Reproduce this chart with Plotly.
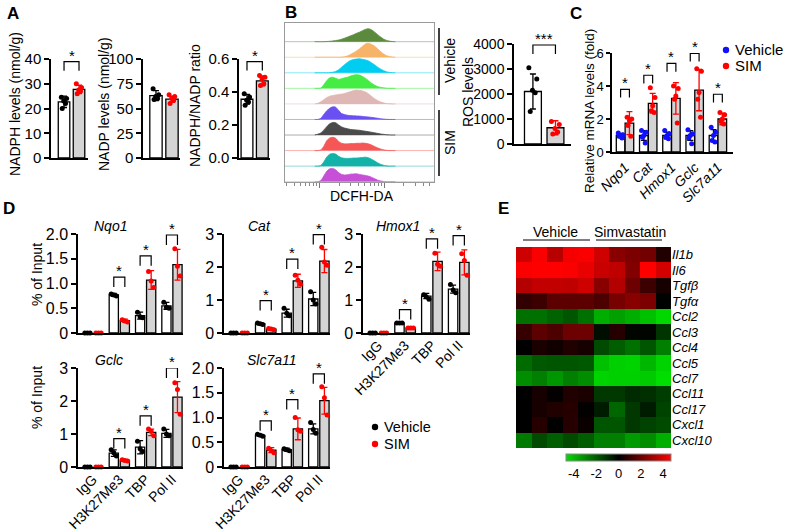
import math
import plotly.graph_objects as go

W, H = 788, 531
FONT = "Arial, Liberation Sans, sans-serif"
GREY = "#d4d4d4"

# ---------- panel A ----------
NADPH_MEAN = [22.7, 27.7]
NADPH_SD = [2.3, 1.7]
NADPH_VEH = [24.5, 24.0, 23.0, 22.0, 20.0]
NADPH_SIM = [30.0, 28.5, 27.5, 27.0, 26.0]
NADP_MEAN = [63.0, 59.5]
NADP_SD = [5.0, 3.0]
NADP_VEH = [70.0, 64.0, 62.0, 60.0, 59.0]
NADP_SIM = [64.0, 62.0, 60.0, 58.0, 55.0]
RATIO_MEAN = [0.356, 0.468]
RATIO_SD = [0.03, 0.03]
RATIO_VEH = [0.39, 0.37, 0.35, 0.34, 0.32]
RATIO_SIM = [0.50, 0.49, 0.48, 0.45, 0.44]
NADPH_BRACKET = 38.9
RATIO_BRACKET = 0.584

# ---------- panel B ----------
HIST_X = [1.0, 1.1, 1.2, 1.3, 1.4, 1.5, 1.6, 1.7, 1.8, 1.9, 2.0, 2.1, 2.2, 2.3,
          2.4, 2.5, 2.6, 2.7, 2.8, 2.9, 3.0, 3.1, 3.2, 3.3, 3.4, 3.5, 3.6, 3.7]
HIST_COLORS = ["#5b8a3c", "#f7b468", "#00cdef", "#44ec44", "#dfb7b5",
               "#6a50f0", "#4a4a4a", "#f55656", "#12b2a8", "#c651d6"]
HIST_ROWS = [
    [0, 0, 0, 0, 1, 3, 5, 8, 12, 18, 25, 33, 42, 50, 60, 68, 78, 88, 93, 85, 70, 52, 35, 20, 10, 4, 1, 0],
    [0, 0, 0, 0, 0, 0, 0, 0, 0, 1, 4, 10, 20, 32, 45, 60, 78, 95, 100, 92, 80, 62, 42, 25, 12, 5, 2, 0],
    [0, 0, 0, 0, 0, 1, 4, 10, 22, 40, 58, 75, 88, 95, 98, 100, 96, 92, 85, 72, 58, 42, 28, 16, 8, 3, 1, 0],
    [0, 0, 2, 25, 55, 75, 80, 72, 64, 68, 75, 80, 88, 95, 98, 95, 85, 72, 55, 38, 24, 14, 8, 4, 1, 0, 0, 0],
    [0, 4, 15, 30, 45, 55, 60, 64, 68, 70, 75, 82, 88, 95, 100, 97, 92, 85, 72, 55, 38, 25, 15, 8, 3, 1, 0, 0],
    [0, 0, 8, 35, 62, 80, 90, 88, 65, 42, 35, 30, 28, 26, 25, 24, 22, 20, 18, 15, 12, 9, 6, 3, 1, 0, 0, 0],
    [1, 6, 15, 35, 60, 80, 90, 88, 72, 58, 50, 45, 40, 38, 36, 34, 30, 27, 24, 20, 16, 12, 8, 5, 2, 1, 0, 0],
    [0, 0, 5, 30, 70, 90, 95, 88, 65, 52, 48, 48, 50, 50, 52, 52, 54, 52, 48, 40, 30, 20, 12, 6, 2, 0, 0, 0],
    [0, 0, 5, 30, 65, 85, 90, 86, 70, 60, 56, 55, 56, 58, 58, 60, 62, 64, 60, 50, 38, 25, 14, 7, 2, 0, 0, 0],
    [0, 0, 8, 40, 75, 92, 95, 85, 65, 52, 48, 50, 54, 55, 56, 52, 48, 45, 40, 32, 22, 12, 6, 2, 0, 0, 0, 0],
]
ROS_MEAN = [2100, 650]
ROS_SD = [700, 280]
ROS_VEH = [3050, 2600, 2150, 2050, 1300]
ROS_SIM = [900, 780, 620, 480, 400]
ROS_BRACKET = 3960

# ---------- panel C ----------
MRNA_GENES = ["Nqo1", "Cat", "Hmox1", "Gclc", "Slc7a11"]
MRNA_VEH_MEAN = [1.0, 1.0, 1.0, 1.0, 1.0]
MRNA_VEH_SD = [0.12, 0.3, 0.2, 0.3, 0.35]
MRNA_SIM_MEAN = [1.75, 2.95, 3.25, 3.75, 2.0]
MRNA_SIM_SD = [0.7, 0.6, 0.95, 1.25, 0.35]
MRNA_VEH_PTS = [[1.15, 1.05, 1.0, 0.95, 0.85], [1.3, 1.2, 1.0, 0.9, 0.55], [1.3, 1.1, 1.0, 0.9, 0.8],
                [1.35, 1.1, 1.0, 0.85, 0.5], [1.5, 1.2, 1.0, 0.7, 0.6]]
MRNA_SIM_PTS = [[2.1, 2.0, 1.9, 1.6, 0.95], [3.9, 3.3, 2.8, 2.5, 2.4], [4.0, 3.85, 3.4, 3.2, 1.75],
                [5.05, 4.9, 3.6, 3.2, 2.1], [2.4, 2.25, 2.0, 1.85, 1.7]]
MRNA_BRACKET = [3.8, 4.65, 5.37, 5.98, 3.5]

# ---------- panel D ----------
CHIP_GENES = ["Nqo1", "Cat", "Hmox1", "Gclc", "Slc7a11"]
CHIP_TARGETS = ["IgG", "H3K27Me3", "TBP", "Pol II"]
CHIP_YMAX = [2, 3, 3, 3, 2]
CHIP_VEH_MEAN = [[0, 0.77, 0.35, 0.55], [0, 0.28, 0.60, 1.03], [0, 0.30, 1.12, 1.33],
                 [0, 0.42, 0.60, 1.02], [0, 0.64, 0.35, 0.77]]
CHIP_SIM_MEAN = [[0, 0.25, 1.07, 1.38], [0, 0.12, 1.58, 2.18], [0, 0.15, 2.17, 2.14],
                 [0, 0.20, 1.05, 2.12], [0, 0.34, 0.77, 1.34]]
CHIP_VEH_SD = [[0, 0.03, 0.07, 0.07], [0, 0.03, 0.12, 0.20], [0, 0.01, 0.08, 0.12],
               [0, 0.10, 0.20, 0.12], [0, 0.02, 0.03, 0.10]]
CHIP_SIM_SD = [[0, 0.03, 0.19, 0.31], [0, 0.02, 0.20, 0.35], [0, 0.01, 0.28, 0.38],
               [0, 0.03, 0.10, 0.47], [0, 0.05, 0.22, 0.27]]
CHIP_VEH_PTS = [
    [[0, 0, 0], [0.79, 0.77, 0.75], [0.42, 0.33, 0.31], [0.62, 0.52, 0.50]],
    [[0, 0, 0], [0.30, 0.28, 0.26], [0.75, 0.60, 0.52], [1.25, 1.00, 0.88]],
    [[0, 0, 0], [0.30, 0.30, 0.30], [1.16, 1.10, 1.02], [1.47, 1.30, 1.22]],
    [[0, 0, 0], [0.52, 0.43, 0.33], [0.78, 0.55, 0.47], [1.15, 1.00, 0.95]],
    [[0, 0, 0], [0.66, 0.64, 0.62], [0.37, 0.35, 0.33], [0.90, 0.76, 0.68]],
]
CHIP_SIM_PTS = [
    [[0, 0, 0], [0.27, 0.24, 0.22], [1.24, 1.05, 0.92], [1.70, 1.35, 1.15]],
    [[0, 0, 0], [0.14, 0.12, 0.10], [1.75, 1.60, 1.48], [2.60, 2.15, 2.05]],
    [[0, 0, 0], [0.15, 0.15, 0.15], [2.42, 2.08, 2.02], [2.40, 2.20, 1.75]],
    [[0, 0, 0], [0.22, 0.20, 0.18], [1.15, 1.08, 0.95], [2.55, 2.35, 1.60]],
    [[0, 0, 0], [0.38, 0.33, 0.29], [1.00, 0.75, 0.72], [1.62, 1.40, 1.05]],
]
CHIP_BRACKET = [[1.13, 1.56, 1.98], [0.98, 2.24, 2.98], [0.71, 2.85, 2.95],
                [0.86, 1.55, 3.00], [0.93, 1.36, 1.88]]

# ---------- panel E ----------
HEAT_GENES = ["Il1b", "Il6", "Tgfβ", "Tgfα", "Ccl2", "Ccl3", "Ccl4", "Ccl5", "Ccl7",
              "Ccl11", "Ccl17", "Cxcl1", "Cxcl10"]
HEAT_Z = [
    [3.8, 4.6, 3.4, 4.5, 4.6, 3.8, 2.5, 2.3, 2.1, 0.6],
    [4.6, 4.7, 4.7, 4.6, 4.3, 3.7, 3.5, 2.4, 4.8, 3.9],
    [3.3, 3.6, 3.6, 3.5, 3.8, 2.5, 3.3, 2.0, 1.1, 0.4],
    [0.9, 1.1, 1.7, 1.7, 1.7, 1.4, 2.2, 2.5, 2.3, -0.05],
    [-2.4, -2.4, -2.1, -1.8, -2.4, -3.7, -3.4, -3.7, -4.1, -4.6],
    [1.0, 1.7, 1.4, 2.0, 2.0, -0.3, 0.7, -0.1, -0.1, -1.1],
    [0.0, 0.5, 0.3, 0.6, 0.4, -1.6, -2.0, -2.4, -1.8, -2.7],
    [-2.3, -1.9, -1.8, -1.8, -1.9, -4.1, -4.4, -4.5, -3.9, -4.5],
    [-3.0, -2.7, -3.2, -2.7, -3.0, -4.5, -4.4, -4.4, -4.3, -4.7],
    [0.0, 0.4, 0.1, 0.6, 0.5, -1.2, -1.2, -0.9, -1.0, -1.3],
    [0.0, 0.4, 0.6, 0.7, 0.05, -0.6, -2.2, -1.2, -0.6, -1.4],
    [0.0, 0.7, 0.0, 0.7, 0.2, -1.8, -1.8, -1.2, -1.4, -1.6],
    [-2.6, -1.6, -2.0, -1.6, -2.0, -2.7, -2.7, -3.3, -3.0, -3.7],
]
HEAT_TICKS = [-4, -2, 0, 2, 4]

JIT5 = [-0.18, 0.17, -0.02, 0.1, -0.12]
JIT5C = [-0.1, 0.1, 0.0, -0.06, 0.06]
JIT3 = [-0.1, 0.0, 0.1]

fig = go.Figure()
axes, shapes, annots = {}, [], []

XBASE = dict(showline=True, linecolor="black", linewidth=1.5, ticks="", showgrid=False,
             zeroline=False, showticklabels=False, automargin=False)
YBASE = dict(showline=True, linecolor="black", linewidth=1.5, ticks="outside", ticklen=5,
             tickwidth=1.5, tickcolor="black", showgrid=False, zeroline=False, automargin=False)


def ids(n):
    return ("x", "y") if n == 1 else (f"x{n}", f"y{n}")


def set_axes(n, box, xopts, yopts):
    x0, x1, y0, y1 = box
    xa, ya = ids(n)
    kx = "xaxis" if n == 1 else f"xaxis{n}"
    ky = "yaxis" if n == 1 else f"yaxis{n}"
    axes[kx] = {**XBASE, "domain": [x0 / W, x1 / W], "anchor": ya, **xopts}
    axes[ky] = {**YBASE, "domain": [1 - y1 / H, 1 - y0 / H], "anchor": xa, **yopts}


def text(x, y, s, size=14, angle=0, **kw):
    annots.append(dict(xref="paper", yref="paper", x=x / W, y=1 - y / H, text=s, showarrow=False,
                       textangle=angle, font=dict(size=size), xanchor=kw.pop("xanchor", "center"),
                       yanchor="middle", **kw))


def dot(x, y, color, r=3.2):
    shapes.append(dict(type="circle", xref="paper", yref="paper", xsizemode="pixel", ysizemode="pixel",
                       xanchor=x / W, yanchor=1 - y / H, x0=-r, x1=r, y0=-r, y1=r,
                       fillcolor=color, line=dict(width=0)))


def add_bars(n, xv, xs, vm, vs, vp, sm, ss, sp, vcol, bw, jit):
    xa, ya = ids(n)
    common = dict(xaxis=xa, yaxis=ya, showlegend=False, hoverinfo="skip")
    fig.add_trace(go.Bar(x=xv, y=vm, width=bw, marker=dict(color="white", line=dict(color="black", width=1.3)),
                         error_y=dict(type="data", array=vs, color="black", thickness=1.3, width=3), **common))
    fig.add_trace(go.Bar(x=xs, y=sm, width=bw, marker=dict(color=GREY, line=dict(color="black", width=1.3)),
                         error_y=dict(type="data", array=ss, color="red", thickness=1.3, width=3), **common))
    for xc, pts, col in ((xv, vp, vcol), (xs, sp, "red")):
        gx, gy = [], []
        for x0, grp in zip(xc, pts):
            for j, v in zip(jit, grp):
                gx.append(x0 + j)
                gy.append(v)
        fig.add_trace(go.Scatter(x=gx, y=gy, mode="markers", marker=dict(color=col, size=5),
                                 cliponaxis=False, **common))


def bracket(n, x0, x1, top, drop, s="*"):
    xa, ya = ids(n)
    shapes.append(dict(type="path", xref=xa, yref=ya, line=dict(color="black", width=1.2),
                       path=f"M {x0},{top - drop} L {x0},{top} L {x1},{top} L {x1},{top - drop}"))
    annots.append(dict(xref=xa, yref=ya, x=(x0 + x1) / 2, y=top, text=s, showarrow=False,
                       yanchor="bottom", yshift=-4, font=dict(size=15)))


# ---------- A ----------
a_panels = [
    (1, (51, 88, 59, 158), [-0.87, 1.6], 40, [0, 10, 20, 30, 40], None, NADPH_MEAN, NADPH_SD, NADPH_VEH, NADPH_SIM, NADPH_BRACKET),
    (2, (143, 180, 59, 158), [-0.81, 1.5], 100, [0, 25, 50, 75, 100], None, NADP_MEAN, NADP_SD, NADP_VEH, NADP_SIM, None),
    (3, (239, 270, 59, 158), [-0.52, 1.5], 0.6, [0, 0.2, 0.4, 0.6], ".1f", RATIO_MEAN, RATIO_SD, RATIO_VEH, RATIO_SIM, RATIO_BRACKET),
]
for n, box, xr, ymax, tv, fmt, m, s, vp, sp, br in a_panels:
    yo = dict(range=[0, ymax], tickvals=tv, tickfont=dict(size=15))
    if fmt:
        yo["tickformat"] = fmt
    set_axes(n, box, dict(range=xr), yo)
    add_bars(n, [0], [1], [m[0]], [s[0]], [vp], [m[1]], [s[1]], [sp], "black", 0.77, JIT5)
    if br is not None:
        bracket(n, 0, 1, br, 0.09 * ymax)

text(15, 104, "NADPH levels (nmol/g)", 14, -90)
text(104, 104, "NADP levels (nmol/g)", 14, -90)
text(195, 106, "NADPH/NADP ratio", 14, -90)

# ---------- B: histograms ----------
set_axes(4, (285, 434, 22.7, 181.7),
         dict(range=[0, 5], linecolor="#9a9a9a", linewidth=1, mirror=True, ticks="outside", ticklen=5,
              tickcolor="#777", tickwidth=1, tickvals=[1.1667, 3.3333],
              minor=dict(tickvals=[d + 2.1667 * math.log10(k) for d in (-1.0, 1.1667, 3.3333)
                                   for k in range(2, 10) if 0 < d + 2.1667 * math.log10(k) < 5],
                         ticks="outside", ticklen=3, tickcolor="#888")),
         dict(range=[0, 10.22], linecolor="#9a9a9a", linewidth=1, mirror=True, ticks="", showticklabels=False))
for k, (col, row) in enumerate(zip(HIST_COLORS, HIST_ROWS)):
    base = len(HIST_ROWS) - 1 - k
    fig.add_trace(go.Scatter(x=[0, 5], y=[base, base], mode="lines", line=dict(color=col, width=1),
                             opacity=0.45, xaxis="x4", yaxis="y4", showlegend=False, hoverinfo="skip"))
    fig.add_trace(go.Scatter(x=HIST_X, y=[base + 0.009 * h for h in row], mode="lines", fill="toself",
                             fillcolor=col, line=dict(color=col, width=0.8, shape="spline", smoothing=0.6),
                             xaxis="x4", yaxis="y4", showlegend=False, hoverinfo="skip"))
text(362, 196, "DCFH-DA", 14)
shapes.append(dict(type="line", xref="paper", yref="paper", x0=439 / W, x1=439 / W, y0=1 - 28 / H, y1=1 - 95 / H,
                   line=dict(color="black", width=1.5)))
shapes.append(dict(type="line", xref="paper", yref="paper", x0=439 / W, x1=439 / W, y0=1 - 110 / H, y1=1 - 176 / H,
                   line=dict(color="black", width=1.5)))
text(450, 61, "Vehicle", 14, -90)
text(450, 143, "SIM", 14, -90)

# ---------- B: ROS ----------
set_axes(5, (514, 571, 44, 144), dict(range=[-0.84, 1.69]),
         dict(range=[0, 4000], tickvals=[0, 1000, 2000, 3000, 4000], tickformat="d", tickfont=dict(size=14)))
add_bars(5, [0], [1], [ROS_MEAN[0]], [ROS_SD[0]], [ROS_VEH], [ROS_MEAN[1]], [ROS_SD[1]], [ROS_SIM],
         "black", 0.75, JIT5)
bracket(5, 0, 1, ROS_BRACKET, 360, "***")
text(468, 92, "ROS levels", 14, -90)

# ---------- C ----------
gx = list(range(len(MRNA_GENES)))
set_axes(6, (612, 733, 53, 152),
         dict(range=[-0.56, 4.65], showticklabels=True, tickvals=gx, tickangle=-45,
              ticktext=[f"<i>{g}</i>" for g in MRNA_GENES], tickfont=dict(size=14)),
         dict(range=[0, 6], tickvals=[0, 2, 4, 6], ticklen=4, tickfont=dict(size=13)))
add_bars(6, [x - 0.19 for x in gx], [x + 0.19 for x in gx], MRNA_VEH_MEAN, MRNA_VEH_SD, MRNA_VEH_PTS,
         MRNA_SIM_MEAN, MRNA_SIM_SD, MRNA_SIM_PTS, "#1010ff", 0.37, JIT5C)
for x, top in zip(gx, MRNA_BRACKET):
    bracket(6, x - 0.19, x + 0.19, top, 0.5)
text(590, 111, "Relative mRNA levels (fold)", 13.5, -90)
dot(726, 50, "#1010ff")
dot(726, 66, "red")
text(733, 50, "Vehicle", 15, xanchor="left")
text(733, 66, "SIM", 15, xanchor="left")

# ---------- D ----------
D_BOXES = [(78, 183, 234, 333), (224, 330, 234, 333), (363, 470, 234, 333),
           (78, 183, 368, 467), (224, 330, 368, 467)]
D_TITLES = [(110, 226), (259, 226), (398, 226), (109, 360), (272, 360)]
tx = list(range(len(CHIP_TARGETS)))
for i, gene in enumerate(CHIP_GENES):
    n = 7 + i
    ymax = CHIP_YMAX[i]
    if ymax == 2:
        tv, tt = [0, 0.5, 1, 1.5, 2], ["0", "0.5", "1.0", "1.5", "2.0"]
    else:
        tv, tt = [0, 1, 2, 3], ["0", "1", "2", "3"]
    set_axes(n, D_BOXES[i],
             dict(range=[-0.57, 3.42], showticklabels=i >= 2, tickvals=tx, ticktext=CHIP_TARGETS,
                  tickangle=-45, tickfont=dict(size=14), ticklabelstandoff=-3),
             dict(range=[0, ymax], tickvals=tv, ticktext=tt, tickfont=dict(size=16)))
    add_bars(n, [x - 0.21 for x in tx], [x + 0.21 for x in tx], CHIP_VEH_MEAN[i], CHIP_VEH_SD[i],
             CHIP_VEH_PTS[i], CHIP_SIM_MEAN[i], CHIP_SIM_SD[i], CHIP_SIM_PTS[i], "black", 0.35, JIT3)
    for x, top in zip(tx[1:], CHIP_BRACKET[i]):
        bracket(n, x - 0.21, x + 0.21, top, 0.1 * ymax)
    text(*D_TITLES[i], f"<i>{gene}</i>", 14)
text(37, 275, "% of Input", 14, -90)
text(37, 398, "% of Input", 14, -90)
dot(375, 427, "black")
dot(375, 444, "red")
text(382, 427, "Vehicle", 14.5, xanchor="left")
text(382, 444, "SIM", 14.5, xanchor="left")

# ---------- E ----------
set_axes(12, (516, 671, 247, 448),
         dict(range=[-0.5, 9.5], showline=False),
         dict(range=[12.5, -0.5], showline=False, ticks="", side="right", tickvals=list(range(len(HEAT_GENES))),
              ticktext=[f"<i>{g}</i>" for g in HEAT_GENES], tickfont=dict(size=13)))
fig.add_trace(go.Heatmap(
    z=HEAT_Z, x=list(range(10)), y=list(range(len(HEAT_GENES))), xaxis="x12", yaxis="y12",
    zmin=-4.7, zmax=4.7, colorscale=[[0, "#00dd00"], [0.5, "#000000"], [1, "#ff0000"]],
    hoverinfo="skip",
    colorbar=dict(orientation="h", x=618.5 / W, xanchor="center", y=1 - 454 / H, yanchor="top",
                  len=105, lenmode="pixels", thickness=7, outlinewidth=1, outlinecolor="#888",
                  tickvals=HEAT_TICKS, ticktext=[str(t) for t in HEAT_TICKS], ticks="",
                  tickfont=dict(size=13), xpad=0, ypad=0),
))
text(555, 232, "Vehicle", 14)
text(630, 232, "Simvastatin", 14)
for xa_, xb_ in ((523, 590), (596, 662)):
    shapes.append(dict(type="line", xref="paper", yref="paper", x0=xa_ / W, x1=xb_ / W, y0=1 - 240 / H,
                       y1=1 - 240 / H, line=dict(color="#555", width=1.5)))

# ---------- panel letters ----------
for s, x, y in (("A", 13, 13), ("B", 291, 12), ("C", 576, 13), ("D", 9, 208), ("E", 503, 208)):
    text(x, y, f"<b>{s}</b>", 17)

fig.update_layout(
    width=W, height=H, margin=dict(l=0, r=0, t=0, b=0, autoexpand=False),
    paper_bgcolor="white", plot_bgcolor="white",
    font=dict(family=FONT, color="black", size=14),
    barmode="overlay", showlegend=False,
    shapes=shapes, annotations=annots, **axes,
)

fig.write_html("out.html", config={"displayModeBar": False},
               post_script="document.body.style.margin='0';document.body.style.overflow='hidden';")
